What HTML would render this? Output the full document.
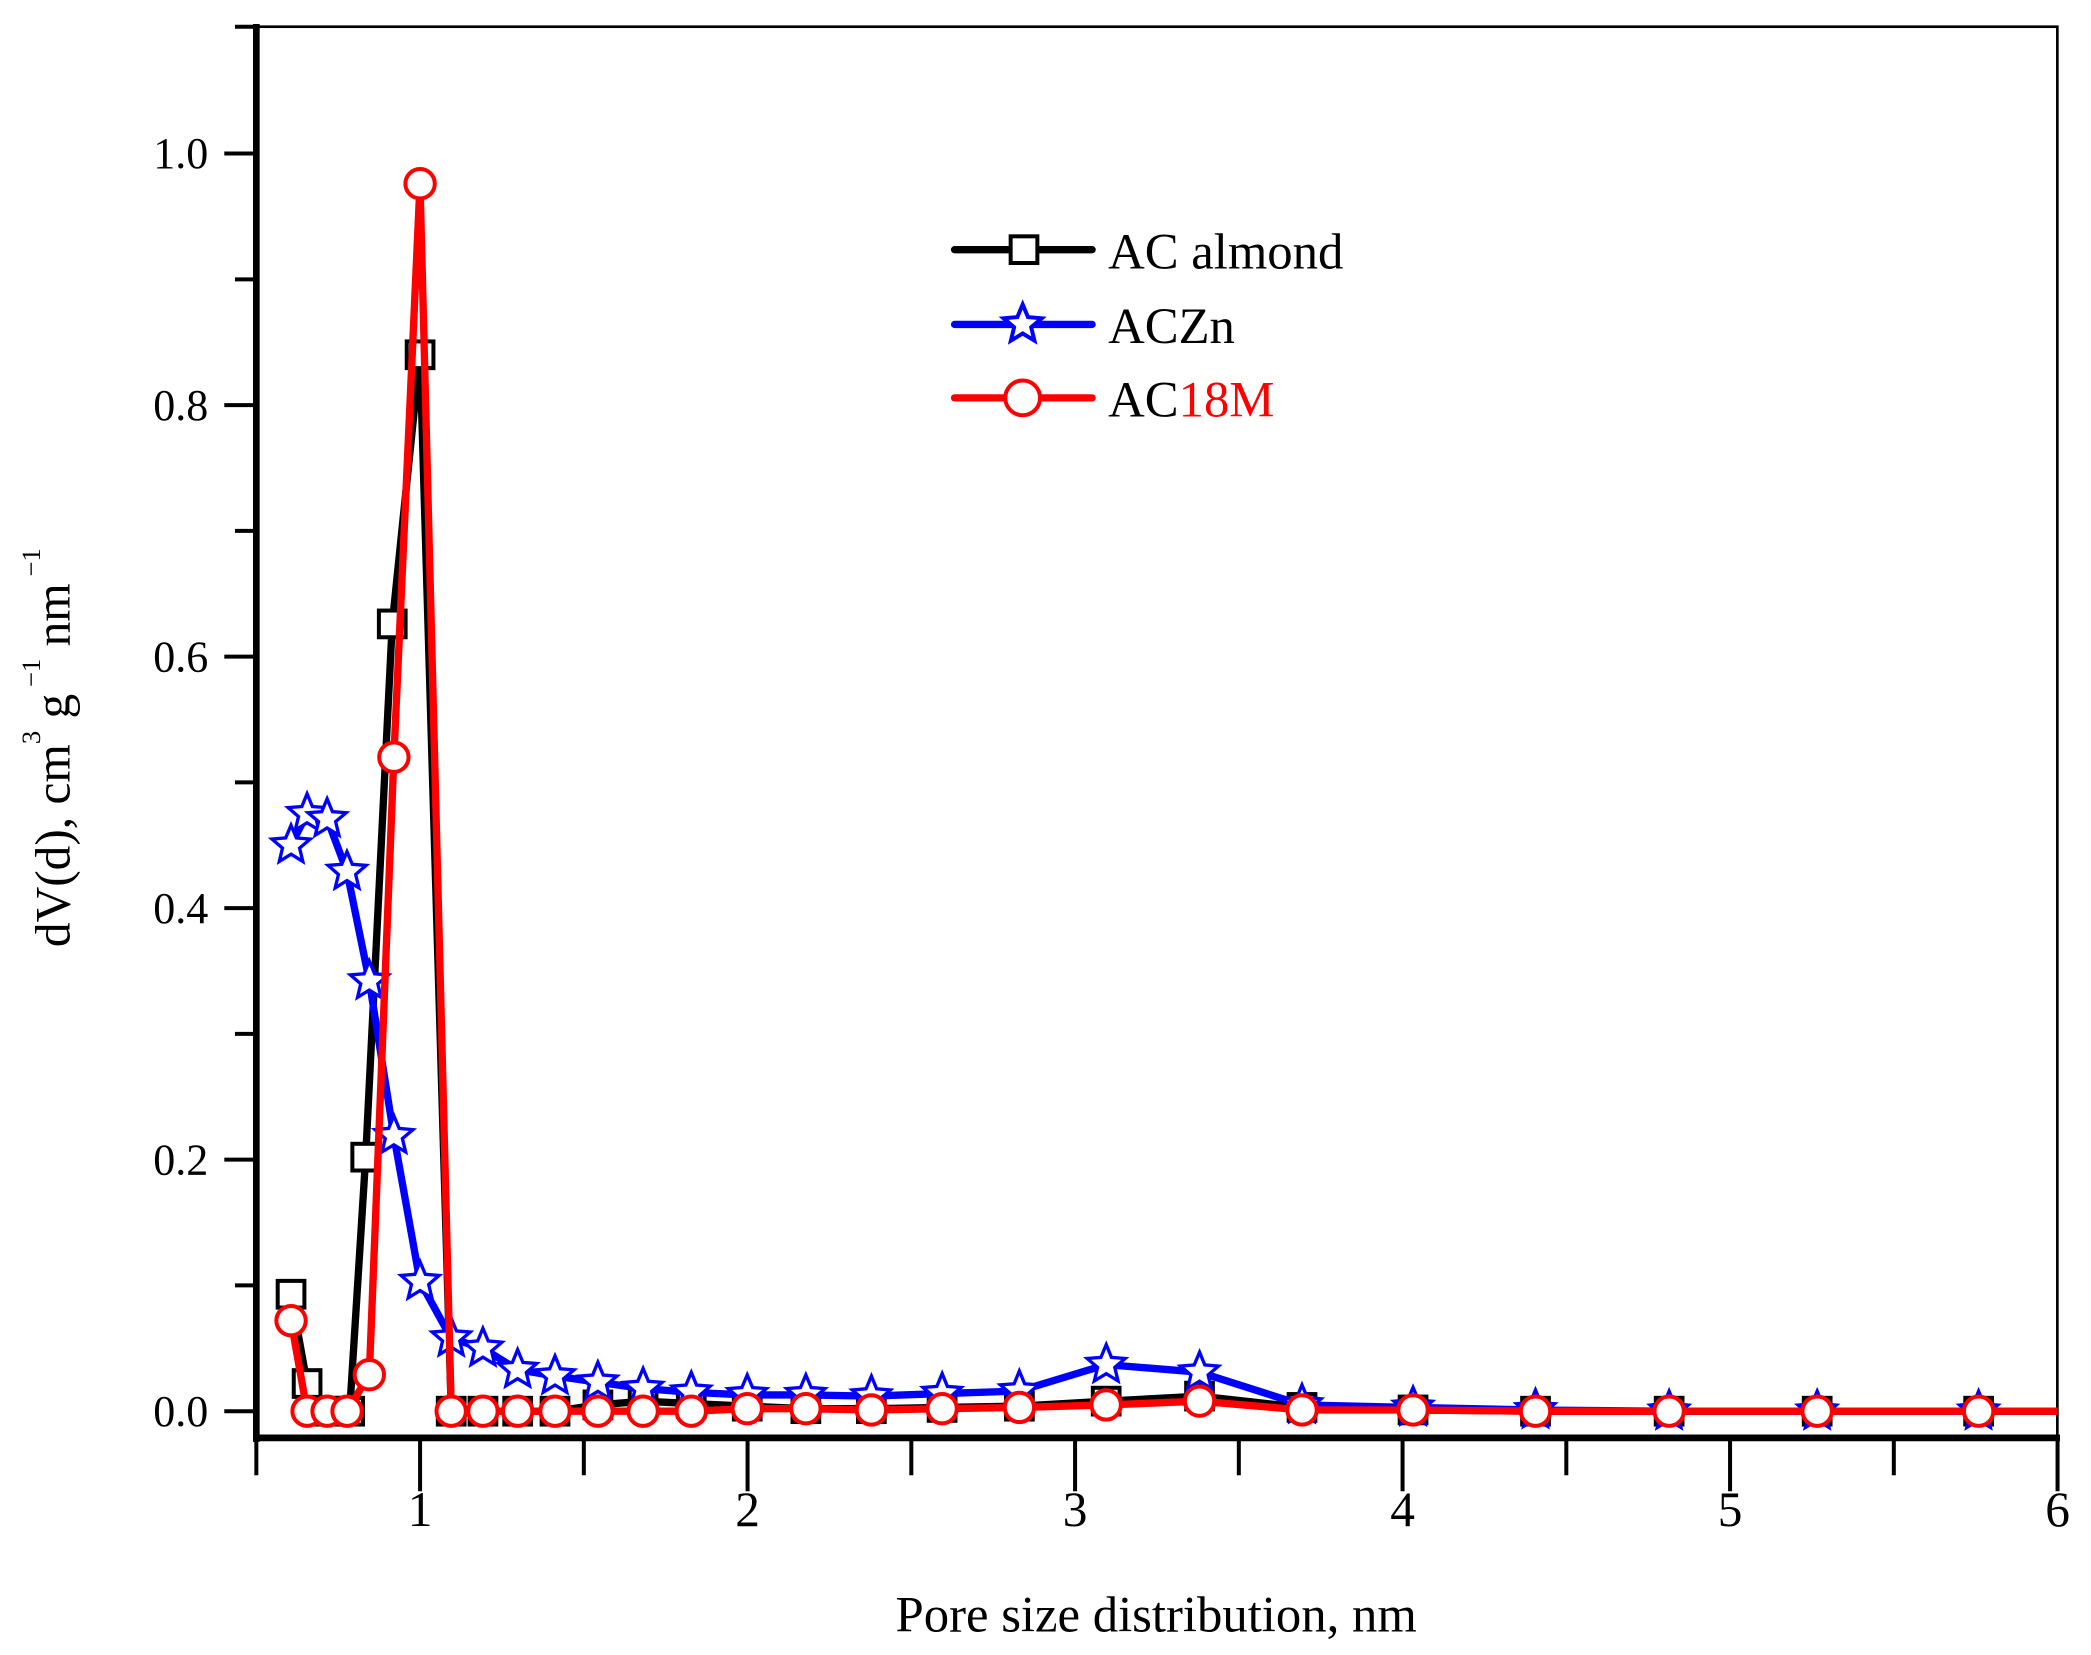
<!DOCTYPE html>
<html><head><meta charset="utf-8"><style>
html,body{margin:0;padding:0;background:#fff;}
svg{display:block;}
text{font-family:"Liberation Serif",serif;fill:#000;}
</style></head><body>
<svg id="chart" width="2091" height="1655" viewBox="0 0 1566.2 1239.6" xmlns="http://www.w3.org/2000/svg">
<g id="axes"></g>
<g id="series"></g>
<g id="legend">
  <line x1="715" y1="187" x2="818" y2="187" stroke="#000" stroke-width="5.5" stroke-linecap="round"/>
  <rect x="757" y="177" width="20" height="20" fill="#fff" stroke="#000" stroke-width="3"/>
  <text x="830" y="201" font-size="38">AC almond</text>
  <line x1="715" y1="243" x2="818" y2="243" stroke="#00f" stroke-width="5.5" stroke-linecap="round"/>
  <path id="legstar" fill="#fff" stroke="#00f" stroke-width="3"/>
  <text x="830" y="257" font-size="38">ACZn</text>
  <line x1="715" y1="298" x2="818" y2="298" stroke="#f00" stroke-width="5.5" stroke-linecap="round"/>
  <circle cx="766" cy="298" r="13" fill="#fff" stroke="#f00" stroke-width="3"/>
  <text x="830" y="312" font-size="38">AC<tspan fill="#f00" style="fill:#f00">18M</tspan></text>
</g>
<text x="866" y="1222" font-size="38" text-anchor="middle">Pore size distribution, nm</text>
<text transform="translate(52,560) rotate(-90)" font-size="37" text-anchor="middle">dV(d), cm<tspan dy="-22" font-size="20">3</tspan><tspan dy="22"> g</tspan><tspan dy="-22" font-size="20"> −1</tspan><tspan dy="22"> nm</tspan><tspan dy="-22" font-size="20"> −1</tspan></text>
</svg>
<script>
const xs = [0.606,0.655,0.716,0.777,0.845,0.92,1.0,1.095,1.192,1.298,1.412,1.543,1.681,1.828,1.999,2.178,2.378,2.594,2.83,3.095,3.38,3.693,4.032,4.406,4.814,5.266,5.759];
const almond = [0.093,0.022,0,0,0.202,0.626,0.84,0,0,0,0,0.005,0.008,0.006,0.004,0.002,0.002,0.003,0.004,0.008,0.012,0.003,0.001,0,0,0,0];
const aczn = [0.45,0.475,0.471,0.429,0.342,0.219,0.103,0.058,0.05,0.033,0.028,0.023,0.018,0.015,0.013,0.013,0.012,0.014,0.016,0.037,0.031,0.005,0.003,0.001,0,0,0];
const ac18m = [0.072,0,0,0,0.029,0.52,0.976,0,0,0,0,0,0,0,0.002,0.002,0.001,0.002,0.003,0.005,0.008,0.001,0.001,0,0,0,0];
const xTicks = [1,2,3,4,5,6];
const yTicks = [0,0.2,0.4,0.6,0.8,1.0];
const xAlmond = [0.606,0.655,0.716,0.785,0.834,0.915,1.0,1.095,1.192,1.298,1.412,1.543,1.681,1.828,1.999,2.178,2.378,2.594,2.83,3.095,3.38,3.693,4.032,4.406,4.814,5.266,5.759];

const NS='http://www.w3.org/2000/svg';
const L=192,R=1541,T=20,B=1077;
const X=v=>192+(v-0.5)*245.3;
const Y=v=>1057-v*942;
function mk(tag,attrs,parent){const e=document.createElementNS(NS,tag);for(const k in attrs)e.setAttribute(k,attrs[k]);parent.appendChild(e);return e;}
const ax=document.getElementById('axes');
mk('rect',{x:L,y:T,width:R-L,height:B-T,fill:'none',stroke:'#000','stroke-width':2},ax);
mk('line',{x1:L,y1:T-2,x2:L,y2:B+3,stroke:'#000','stroke-width':5},ax);
mk('line',{x1:L-2,y1:B,x2:R+2,y2:B,stroke:'#000','stroke-width':5},ax);
for(let v=0;v<=1.05;v+=0.1){const y=Y(v);const maj=Math.round(v*10)%2===0;mk('line',{x1:maj?168:176,y1:y,x2:L,y2:y,stroke:'#000','stroke-width':3},ax);}
mk('line',{x1:176,y1:T,x2:L,y2:T,stroke:'#000','stroke-width':3},ax);
yTicks.forEach(v=>{const t=mk('text',{x:156,y:Y(v)+11,'font-size':33,'text-anchor':'end'},ax);t.textContent=v.toFixed(1);

});
for(let v=0.5;v<=6.01;v+=0.5){const x=X(v);const maj=Math.abs(v-Math.round(v))<0.01;mk('line',{x1:x,y1:B,x2:x,y2:maj?1117:1105,stroke:'#000','stroke-width':3},ax);}
xTicks.forEach(v=>{const t=mk('text',{x:X(v),y:1143,'font-family':'Liberation Sans','font-size':37,'text-anchor':'middle'},ax);t.textContent=v;

});
function starPath(cx,cy,r){let d='';for(let i=0;i<10;i++){const a=-Math.PI/2+i*Math.PI/5;const rr=i%2?r*0.45:r;d+=(i?'L':'M')+(cx+rr*Math.cos(a)).toFixed(1)+','+(cy+rr*Math.sin(a)).toFixed(1);}return d+'Z';}
document.getElementById('legstar').setAttribute('d',starPath(766,243,15));
const sg=document.getElementById('series');
function draw(xv,vals,color,name,marker){
  const g=mk('g',{},sg);
  
  
  const pts=xv.map((x,i)=>X(x).toFixed(1)+','+Y(vals[i]).toFixed(1));
  pts.push(X(6).toFixed(1)+','+Y(vals[vals.length-1]).toFixed(1));
  const pl=mk('polyline',{points:pts.join(' '),fill:'none',stroke:color,'stroke-width':5.5,'stroke-linejoin':'round'},g);
  
  
  xv.forEach((x,i)=>{const cx=X(x),cy=Y(vals[i]);let m;
    if(marker==='sq')m=mk('rect',{x:cx-10,y:cy-10,width:20,height:20,fill:'#fff',stroke:color,'stroke-width':3},g);
    else if(marker==='st')m=mk('path',{d:starPath(cx,cy,15),fill:'#fff',stroke:color,'stroke-width':2.5},g);
    else m=mk('circle',{cx:cx,cy:cy,r:11,fill:'#fff',stroke:color,'stroke-width':3},g);
    
    });
}
draw(xAlmond,almond,'#000','ac-almond','sq');
draw(xs,aczn,'#00f','aczn','st');
draw(xs,ac18m,'#f00','ac18m','ci');
</script>
</body></html>
